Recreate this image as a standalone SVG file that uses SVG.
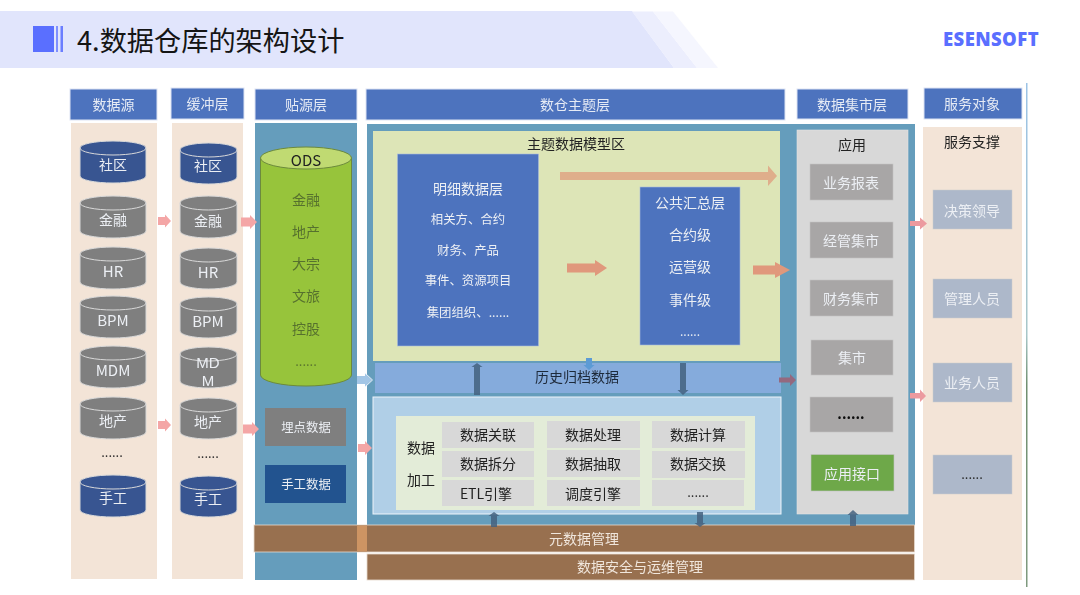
<svg xmlns="http://www.w3.org/2000/svg" width="1080" height="595" viewBox="0 0 1080 595">
<style>
text{font-family:"Noto Sans CJK SC","Noto Sans",sans-serif;text-anchor:middle;dominant-baseline:central;transform:translateY(-1px)}
.h rect{fill:#4d73be;stroke:#dde4f3;stroke-width:1}
.h text{fill:#e6ebf5;font-size:14px}
.w{fill:#eceff4;font-size:14px}
.s{fill:#eceff4;font-size:12.400px}
.d{fill:#222;font-size:14px}
.l{fill:#eceff4;font-size:15px}
.dots{fill:#222;font-size:13px}
.cg{fill:#7f7f7f}.cb{fill:#375491}
.cyl path{stroke:#d9d9d9;stroke-width:1}
.tan{fill:#f3e4d7}.teal{fill:#659dbc}
.brown{fill:#987050;stroke:#e6d9cc;stroke-width:.8}
.cell{fill:#d8d8d8}.mk{fill:#a8a6a6;stroke:#c4c4c4;stroke-width:.6}
.sv{fill:#adb8ca;stroke:#ccc;stroke-width:.5}
.pk{fill:#f4a6a6}.dk{fill:#44617f;opacity:.85}
</style>
<defs>
<filter id="soft" x="-2%" y="-2%" width="104%" height="104%"><feGaussianBlur stdDeviation=".45"/></filter>
<linearGradient id="vl" x1="0" x2="0" y1="0" y2="1"><stop offset="0" stop-color="#9cc3e6"/><stop offset=".5" stop-color="#a7c6c8"/><stop offset=".6" stop-color="#6f8f6f"/><stop offset="1" stop-color="#7f9a7f"/></linearGradient>
</defs>
<rect width="1080" height="595" fill="#fff"/>
<g id="title-band">
<path d="M0 11H632L674 68H0Z" fill="#e1e5fc"/>
<path d="M632 11.500H653L697 68H674Z" fill="#eceefd"/>
<path d="M653 11.500H673L718 68H697Z" fill="#f5f6fe"/>
<rect x="33" y="26" width="21" height="26" fill="#5a6fff"/>
<rect x="56" y="26" width="2" height="26" fill="#7f8fff"/>
<rect x="60.500" y="26" width="2.500" height="26" fill="#6b7eff"/>
<text x="77" y="40" style="text-anchor:start;font-size:27.200px;fill:#151515">4.数据仓库的架构设计</text>
<text x="991" y="39" style="font-family:'Open Sans','Noto Sans',sans-serif;font-weight:800;font-size:18.500px;fill:#5a6fff;letter-spacing:.4px">ESENSOFT</text>
</g>
<g filter="url(#soft)">
<g id="column-panels">
<rect class="tan" x="71" y="123" width="86" height="456"/>
<rect class="tan" x="172" y="123" width="71" height="456"/>
<rect class="teal" x="255" y="123" width="102" height="457"/>
<rect class="teal" x="367" y="124" width="548" height="401"/>
<rect class="tan" x="923" y="127" width="99" height="453"/>
<rect x="1026" y="83" width="1.500" height="504" fill="url(#vl)"/>
</g>
<g id="header-shu-ju-yuan" class="h"><rect x="70" y="89" width="87" height="31"/><text x="113.500" y="105">数据源</text></g>
<g id="header-huan-chong" class="h"><rect x="171" y="88" width="73" height="31"/><text x="207.500" y="104">缓冲层</text></g>
<g id="header-tie-yuan" class="h"><rect x="255" y="89" width="102" height="31"/><text x="306" y="105">贴源层</text></g>
<g id="header-shu-cang" class="h"><rect x="366" y="89" width="419" height="31"/><text x="575" y="105">数仓主题层</text></g>
<g id="header-ji-shi" class="h"><rect x="797" y="89" width="111" height="30"/><text x="852" y="105">数据集市层</text></g>
<g id="header-fu-wu" class="h"><rect x="924" y="88" width="98" height="31"/><text x="972" y="104">服务对象</text></g>

<g id="source-db-shequ" class="cyl"><path class="cb" d="M80 148V176A33 7 0 0 0 146 176V148A33 7 0 0 0 80 148Z"/><path d="M80 148A33 7 0 0 0 146 148" fill="none"/><text class="w" x="113" y="165">社区</text></g>
<g id="source-db-jinrong" class="cyl"><path class="cg" d="M80 203V231A33 7 0 0 0 146 231V203A33 7 0 0 0 80 203Z"/><path d="M80 203A33 7 0 0 0 146 203" fill="none"/><text class="w" x="113" y="220">金融</text></g>
<g id="source-db-hr" class="cyl"><path class="cg" d="M80 254V282A33 7 0 0 0 146 282V254A33 7 0 0 0 80 254Z"/><path d="M80 254A33 7 0 0 0 146 254" fill="none"/><text class="l" x="113" y="271">HR</text></g>
<g id="source-db-bpm" class="cyl"><path class="cg" d="M80 303V331A33 7 0 0 0 146 331V303A33 7 0 0 0 80 303Z"/><path d="M80 303A33 7 0 0 0 146 303" fill="none"/><text class="l" x="113" y="320">BPM</text></g>
<g id="source-db-mdm" class="cyl"><path class="cg" d="M80 353V381A33 7 0 0 0 146 381V353A33 7 0 0 0 80 353Z"/><path d="M80 353A33 7 0 0 0 146 353" fill="none"/><text class="l" x="113" y="370">MDM</text></g>
<g id="source-db-dichan" class="cyl"><path class="cg" d="M80 404V432A33 7 0 0 0 146 432V404A33 7 0 0 0 80 404Z"/><path d="M80 404A33 7 0 0 0 146 404" fill="none"/><text class="w" x="113" y="421">地产</text></g>
<g id="source-more"><text class="dots" x="112" y="452">......</text></g>
<g id="source-db-shougong" class="cyl"><path class="cb" d="M80 482V510A33 7 0 0 0 146 510V482A33 7 0 0 0 80 482Z"/><path d="M80 482A33 7 0 0 0 146 482" fill="none"/><text class="w" x="113" y="498">手工</text></g>

<g id="buffer-db-shequ" class="cyl"><path class="cb" d="M180 150V177A28.500 7 0 0 0 237 177V150A28.500 7 0 0 0 180 150Z"/><path d="M180 150A28.500 7 0 0 0 237 150" fill="none"/><text class="w" x="208" y="166">社区</text></g>
<g id="buffer-db-jinrong" class="cyl"><path class="cg" d="M180 203V231A28.500 7 0 0 0 237 231V203A28.500 7 0 0 0 180 203Z"/><path d="M180 203A28.500 7 0 0 0 237 203" fill="none"/><text class="w" x="208" y="221">金融</text></g>
<g id="buffer-db-hr" class="cyl"><path class="cg" d="M180 255V282A28.500 7 0 0 0 237 282V255A28.500 7 0 0 0 180 255Z"/><path d="M180 255A28.500 7 0 0 0 237 255" fill="none"/><text class="l" x="208" y="272">HR</text></g>
<g id="buffer-db-bpm" class="cyl"><path class="cg" d="M180 304V331A28.500 7 0 0 0 237 331V304A28.500 7 0 0 0 180 304Z"/><path d="M180 304A28.500 7 0 0 0 237 304" fill="none"/><text class="l" x="208" y="321">BPM</text></g>
<g id="buffer-db-mdm" class="cyl"><path class="cg" d="M180 354V381A28.500 7 0 0 0 237 381V354A28.500 7 0 0 0 180 354Z"/><path d="M180 354A28.500 7 0 0 0 237 354" fill="none"/><text class="l" x="208" y="363" style="font-family:'Liberation Sans',sans-serif"><tspan x="208">MD</tspan><tspan x="208" dy="18">M</tspan></text></g>
<g id="buffer-db-dichan" class="cyl"><path class="cg" d="M180 405V432A28.500 7 0 0 0 237 432V405A28.500 7 0 0 0 180 405Z"/><path d="M180 405A28.500 7 0 0 0 237 405" fill="none"/><text class="w" x="208" y="422">地产</text></g>
<g id="buffer-more"><text class="dots" x="208" y="453">......</text></g>
<g id="buffer-db-shougong" class="cyl"><path class="cb" d="M180 483V510A28.500 7 0 0 0 237 510V483A28.500 7 0 0 0 180 483Z"/><path d="M180 483A28.500 7 0 0 0 237 483" fill="none"/><text class="w" x="208" y="499">手工</text></g>

<g id="ods">
<path d="M260.500 158V375A45.500 11 0 0 0 351.500 375V158Z" fill="#97c43a" stroke="#6c8a3c" stroke-width="1"/>
<ellipse cx="306" cy="158" rx="45.500" ry="11" fill="#c0da72" stroke="#6c8a3c" stroke-width="1"/>
<text x="306" y="160" style="font-size:15px;fill:#222">ODS</text>
<text x="306" y="200" style="font-size:14px;fill:#57712f">金融</text>
<text x="306" y="232" style="font-size:14px;fill:#57712f">地产</text>
<text x="306" y="264" style="font-size:14px;fill:#57712f">大宗</text>
<text x="306" y="296" style="font-size:14px;fill:#57712f">文旅</text>
<text x="306" y="329" style="font-size:14px;fill:#57712f">控股</text>
<text x="306" y="361" style="font-size:13px;fill:#57712f">......</text>
</g>
<g id="maidian"><rect x="265" y="408" width="81" height="38" fill="#7f7f7f"/><text class="s" x="306" y="428">埋点数据</text></g>
<g id="shougong-data"><rect x="265" y="465" width="81" height="38" fill="#21538f"/><text class="s" x="306" y="485">手工数据</text></g>

<g id="model-zone">
<rect x="373" y="131" width="407" height="230" fill="#dde5b7"/>
<text x="576" y="144" style="font-size:14px;fill:#222">主题数据模型区</text>
</g>
<g id="detail-layer">
<rect x="397.500" y="154" width="141" height="192" fill="#4d73be" stroke="#a9bbdd" stroke-width=".6"/>
<text class="w" x="468" y="189">明细数据层</text>
<text class="s" x="468" y="220">相关方、合约</text>
<text class="s" x="468" y="251">财务、产品</text>
<text class="s" x="468" y="281">事件、资源项目</text>
<text class="s" x="468" y="313">集团组织、......</text>
</g>
<g id="summary-layer">
<rect x="640" y="187" width="100" height="158" fill="#4d73be" stroke="#a9bbdd" stroke-width=".6"/>
<text class="w" x="690" y="203">公共汇总层</text>
<text class="w" x="690" y="235">合约级</text>
<text class="w" x="690" y="267">运营级</text>
<text class="w" x="690" y="300">事件级</text>
<text x="690" y="331" style="font-size:12px;fill:#eceff4">......</text>
</g>
<g id="history"><rect x="375" y="363" width="406" height="30" fill="#85abdc"/><text x="577" y="377" style="font-size:14px;fill:#1f2a3a">历史归档数据</text></g>
<g id="processing">
<rect x="373" y="397" width="408" height="117" fill="#b0cfe7" stroke="#eef4fa" stroke-width="1"/>
<rect x="396" y="416" width="359" height="94" fill="#e3ecd8"/>
<text class="d" x="421" y="448">数据</text>
<text class="d" x="421" y="480">加工</text>
<g>
<rect class="cell" x="442" y="422" width="92" height="26"/><text class="d" x="488" y="435">数据关联</text>
<rect class="cell" x="547" y="421" width="93" height="27"/><text class="d" x="593" y="435">数据处理</text>
<rect class="cell" x="652" y="421" width="93" height="27"/><text class="d" x="698" y="435">数据计算</text>
<rect class="cell" x="442" y="451" width="92" height="26"/><text class="d" x="488" y="464">数据拆分</text>
<rect class="cell" x="547" y="450" width="93" height="27"/><text class="d" x="593" y="464">数据抽取</text>
<rect class="cell" x="652" y="451" width="93" height="27"/><text class="d" x="698" y="464">数据交换</text>
<rect class="cell" x="442" y="480" width="92" height="26"/><text class="d" x="486" y="494">ETL引擎</text>
<rect class="cell" x="547" y="480" width="93" height="26"/><text class="d" x="593" y="494">调度引擎</text>
<rect class="cell" x="652" y="480" width="92" height="26"/><text class="dots" x="698" y="492">......</text>
</g>
</g>
<g id="metadata"><rect class="brown" x="254" y="525" width="660.500" height="27"/><rect x="357" y="525.500" width="10" height="26" fill="#cd9464"/><text x="584" y="539" style="font-size:14px;fill:#f0e6dc">元数据管理</text></g>
<g id="security"><rect class="brown" x="367" y="554" width="547.500" height="26"/><text x="640" y="567" style="font-size:14px;fill:#f0e6dc">数据安全与运维管理</text></g>

<g id="market">
<rect x="797" y="130" width="111" height="384" fill="#d8d8d8" stroke="#e4e4e4" stroke-width=".6"/>
<text x="852" y="145" style="font-size:14px;fill:#222">应用</text>
<rect class="mk" x="810" y="164" width="83" height="36"/><text class="w" x="851" y="183">业务报表</text>
<rect class="mk" x="810" y="222" width="83" height="36"/><text class="w" x="851" y="241">经管集市</text>
<rect class="mk" x="810" y="280" width="83" height="36"/><text class="w" x="851" y="299">财务集市</text>
<rect class="mk" x="811" y="340" width="82" height="35"/><text class="w" x="852" y="358">集市</text>
<rect class="mk" x="810" y="397" width="83" height="35"/><text x="851" y="414" style="font-size:14px;font-weight:700;fill:#111">......</text>
<rect x="811" y="454.500" width="83" height="36.500" fill="#6ea84a" stroke="#c4c4c4" stroke-width=".6"/><text class="w" x="852" y="474">应用接口</text>
</g>
<g id="service">
<text x="972" y="142" style="font-size:14px;fill:#222">服务支撑</text>
<rect class="sv" x="933" y="190" width="79" height="39"/><text class="w" x="972" y="211">决策领导</text>
<rect class="sv" x="933" y="279" width="79" height="39"/><text class="w" x="972" y="299">管理人员</text>
<rect class="sv" x="933" y="363" width="79" height="39"/><text class="w" x="972" y="383">业务人员</text>
<rect class="sv" x="933" y="455" width="79" height="39"/><text class="dots" x="972" y="474">......</text>
</g>

<g id="connectors">
<path class="pk" d="M158 217H165V214.500L171 221L165 227.500V225H158Z"/>
<path class="pk" d="M241 217.500H250V215L257 222L250 229V226.500H241Z"/>
<path class="pk" d="M158 421H165V418.500L171 425L165 431.500V429H158Z"/>
<path class="pk" d="M243 424.500H252V422L259 429L252 436V433.500H243Z"/>
<path class="pk" d="M358 444H365V441L372 448L365 455V452H358Z"/>
<path d="M357 376H365V373.500L372 380L365 386.500V384H357Z" fill="#a3c6e6"/>
<path d="M365 373L372.500 380L365 387" fill="none" stroke="#eaf2fa" stroke-width="1"/>
<path d="M560 172H768V165.500L777 176L768 186V180H560Z" fill="#dfae8b"/>
<path d="M567 263.500H595V260L607 268L595 276V272.500H567Z" fill="#e0987b"/>
<path d="M753 265.500H775V262L790 270L775 278V274.500H753Z" fill="#e0987b"/>
<path d="M779 377.500H790V374L796 380L790 386V382.500H779Z" fill="#94697f"/>
<path d="M910 221H920V217.500L927 223.500L920 229.500V226H910Z" fill="#ec9a9f"/>
<path d="M910 393H920V389.500L926 396L920 402V398.500H910Z" fill="#ec9a9f"/>
<path d="M586 358H592V365H594.500L589 370L583.500 365H586Z" fill="#5b9bd5"/>
<path class="dk" d="M474 395V367H471.500L477 363L482.500 367H480V395Z"/>
<path class="dk" d="M680 363V390H677.500L683 395L688.500 390H686V363Z"/>
<path class="dk" d="M491 527V516H488.500L494 512L499.500 516H497V527Z"/>
<path class="dk" d="M697 512V523H694.500L700 527L705.500 523H703V512Z"/>
<path class="dk" d="M850 526V515H847.500L853 510L858.500 515H856V526Z"/>
</g>
</g>
</svg>
